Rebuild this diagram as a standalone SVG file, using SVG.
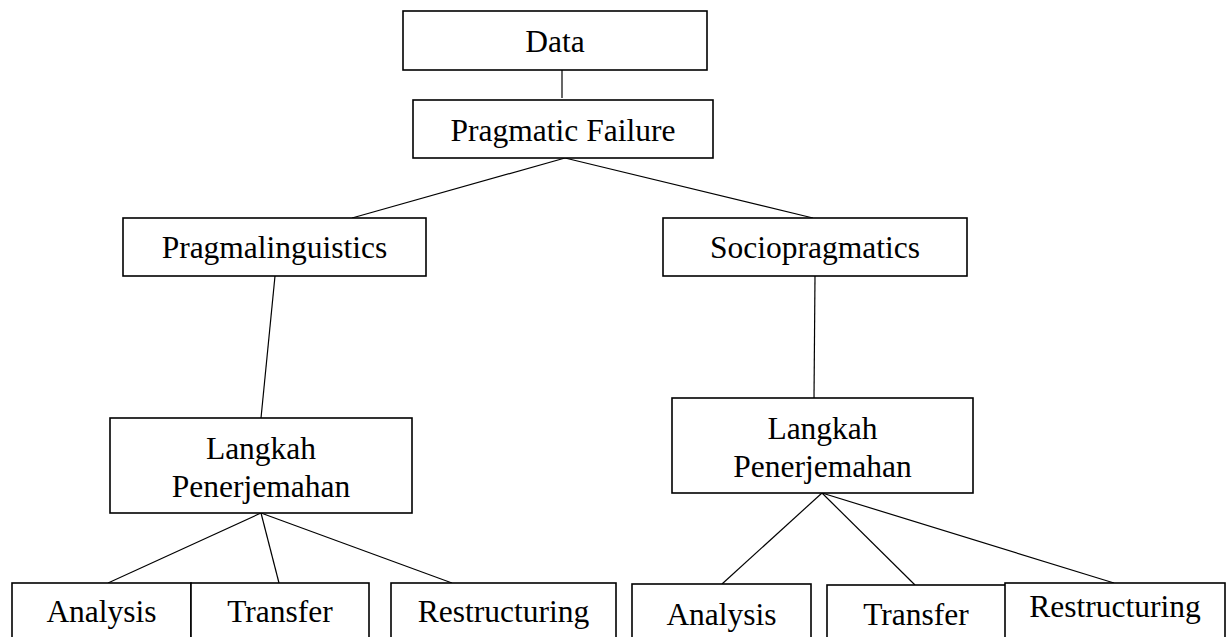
<svg xmlns="http://www.w3.org/2000/svg" width="1232" height="637" viewBox="0 0 1232 637">
<style>
  rect { fill: #ffffff; stroke: #000000; stroke-width: 1.6; }
  .c line { stroke: #000000; stroke-width: 1.2; }
  text { font-family: "Liberation Serif", "Times New Roman", serif; font-size: 31.5px; fill: #000000; text-anchor: middle; }
</style>
<rect x="0" y="0" width="1232" height="637" style="stroke:none"/>
<g id="connectors" class="c">
  <line x1="562" y1="70" x2="562" y2="98"/>
  <line x1="565" y1="158" x2="352" y2="218"/>
  <line x1="565" y1="158" x2="813" y2="218"/>
  <line x1="275" y1="276" x2="261" y2="418"/>
  <line x1="815" y1="276" x2="814" y2="398"/>
  <line x1="261" y1="513" x2="108" y2="583"/>
  <line x1="261" y1="513" x2="279" y2="583"/>
  <line x1="261" y1="513" x2="452" y2="583"/>
  <line x1="822" y1="493" x2="722" y2="584"/>
  <line x1="822" y1="493" x2="915" y2="585"/>
  <line x1="822" y1="493" x2="1114" y2="583"/>
</g>
<g id="data"><rect x="403" y="11" width="304" height="59"/><text x="555" y="52">Data</text></g>
<g id="pragmatic-failure"><rect x="413" y="100" width="300" height="58"/><text x="563" y="141">Pragmatic Failure</text></g>
<g id="pragmalinguistics"><rect x="123" y="218" width="303" height="58"/><text x="274.5" y="258">Pragmalinguistics</text></g>
<g id="sociopragmatics"><rect x="663" y="218" width="304" height="58"/><text x="815" y="258">Sociopragmatics</text></g>
<g id="langkah-left"><rect x="110" y="418" width="302" height="95"/><text x="261" y="459">Langkah</text><text x="261" y="497">Penerjemahan</text></g>
<g id="langkah-right"><rect x="672" y="398" width="301" height="95"/><text x="822.5" y="439">Langkah</text><text x="822.5" y="477">Penerjemahan</text></g>
<g id="analysis-left"><rect x="12" y="583" width="179" height="80"/><text x="101.5" y="622">Analysis</text></g>
<g id="transfer-left"><rect x="191" y="583" width="178" height="80"/><text x="280" y="622">Transfer</text></g>
<g id="restructuring-left"><rect x="391" y="583" width="225" height="80"/><text x="503.5" y="622">Restructuring</text></g>
<g id="analysis-right"><rect x="632" y="584" width="179" height="80"/><text x="721.5" y="625">Analysis</text></g>
<g id="transfer-right"><rect x="827" y="585" width="179" height="80"/><text x="916" y="625">Transfer</text></g>
<g id="restructuring-right"><rect x="1005" y="583" width="220" height="80"/><text x="1115" y="617">Restructuring</text></g>
</svg>
